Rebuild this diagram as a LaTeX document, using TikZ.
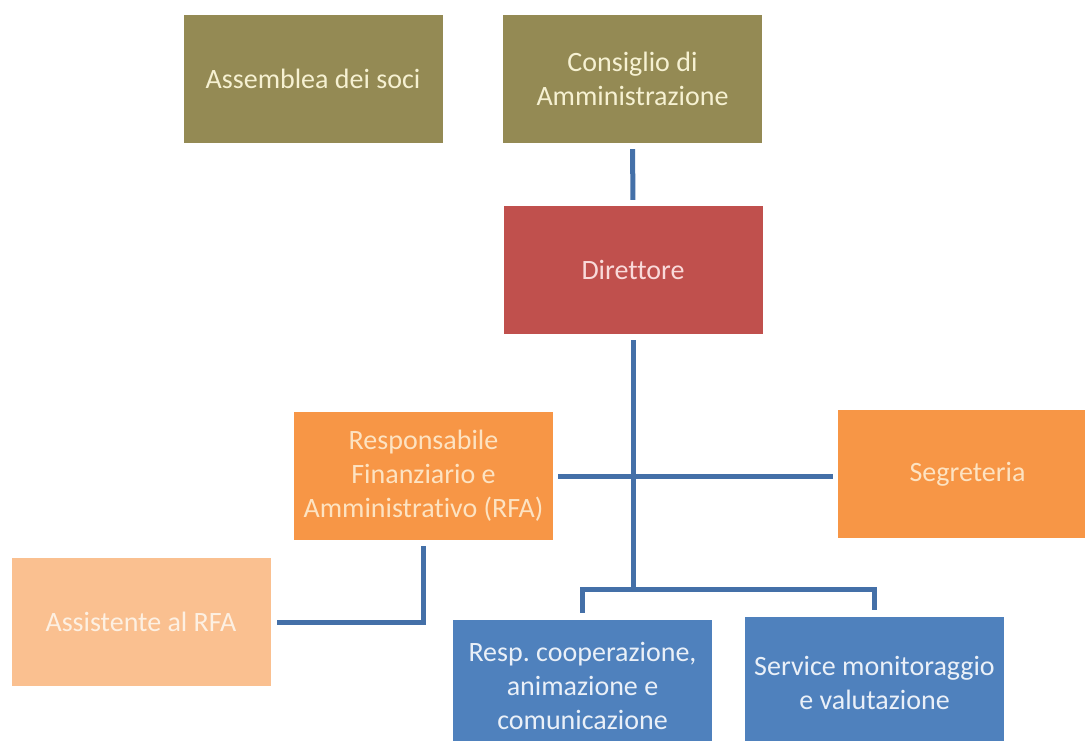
\documentclass[tikz,border=0pt]{standalone}
\usepackage{fontspec}
\setmainfont[Ligatures=NoCommon]{Carlito}
\frenchspacing
\definecolor{olive}{HTML}{948A54}
\definecolor{olivetxt}{HTML}{F6F1D2}
\definecolor{redbox}{HTML}{C0504D}
\definecolor{redtxt}{HTML}{F9DADA}
\definecolor{orangebox}{HTML}{F79646}
\definecolor{orangetxt}{HTML}{FDE3C2}
\definecolor{lightorange}{HTML}{FAC090}
\definecolor{lightorangetxt}{HTML}{FDF0E2}
\definecolor{bluebox}{HTML}{4F81BD}
\definecolor{bluetxt}{HTML}{EAF0F8}
\definecolor{linec}{HTML}{4470A8}
\begin{document}
\begin{tikzpicture}[x=1pt,y=-1pt,
  box/.style={rectangle, inner sep=0pt, minimum width=259pt, minimum height=128pt,
              align=center, font=\fontsize{28}{34}\selectfont},
  olivebox/.style={box, fill=olive, text=olivetxt},
  redb/.style={box, fill=redbox, text=redtxt},
  orangeb/.style={box, fill=orangebox, text=orangetxt},
  lightb/.style={box, fill=lightorange, text=lightorangetxt},
  blueb/.style={box, fill=bluebox, text=bluetxt, minimum height=132pt},
  link/.style={draw=linec, line width=5pt, shorten <=6pt, shorten >=6pt}]
\useasboundingbox (0,0) rectangle (1085,740);
\clip (0,0) rectangle (1085,740);
\fill[white] (0,0) rectangle (1085,740);

\node[olivebox] (ass) at (313,79) {Assemblea dei soci};
\node[olivebox] (cda) at (632.5,79) {Consiglio di\\Amministrazione};
\node[redb] (dir) at (633,270) {Direttore};
\node[orangeb] (rfa) at (423.5,476) {Responsabile\\Finanziario e\\Amministrativo (RFA)};
\node[orangeb] (seg) at (967.5,474) {Segreteria};
\node[lightb] (asst) at (141,622) {Assistente al RFA};
\node[blueb] (resp) at (582.5,686) {Resp. cooperazione,\\animazione e\\comunicazione};
\node[blueb] (serv) at (874.5,683) {Service monitoraggio\\e valutazione};

\coordinate (bus) at (633,589);

\draw[link] (cda.south) -- (dir.north);
\draw[link, shorten >=0pt] (dir.south) -- (dir.south |- bus);
\draw[link, shorten <=5pt, shorten >=5pt] (rfa.east) -- (rfa.east -| seg.west);
\draw[link, shorten <=7pt, shorten >=7pt] (resp.north) |- (bus) -| (serv.north);
\draw[link] (rfa.south) |- (asst.east);
\end{tikzpicture}
\end{document}
